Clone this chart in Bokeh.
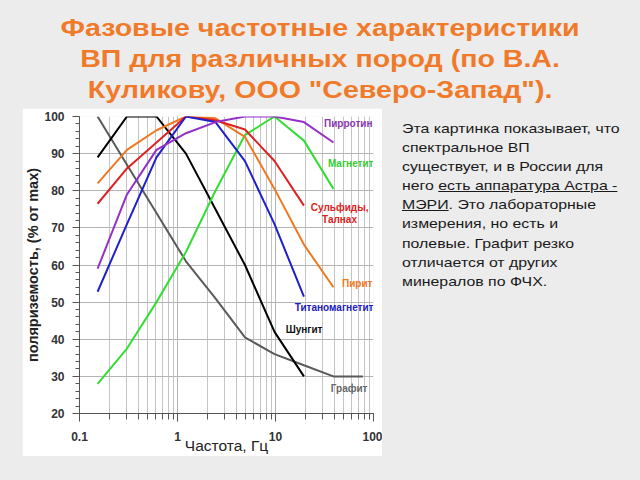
from bokeh.plotting import figure
from bokeh.models import Range1d, Label, FixedTicker, Div, Spacer
from bokeh.layouts import column, row
from bokeh.embed import file_html
from bokeh.resources import INLINE

# ---- data (frequency in Hz, polarizability in % of max) ----
freqs = [0.153, 0.305, 0.61, 1.22, 2.44, 4.88, 9.77, 19.5, 39.0, 78.0]
shungit = [89, 100, 100, 90, 75, 60, 42, 30]
grafit = [100, 87, 74, 61, 51, 40.5, 36, 33, 30, 30]
pirit = [82, 91, 96.3, 100, 99.5, 94.5, 80.5, 65.5, 54]
sulfidy = [76.5, 86, 93, 100, 99, 96.5, 88, 76]
pirrotin = [59, 79, 91, 95.5, 98.5, 100, 100, 98.5, 93]
titanomagnetit = [52.8, 71, 89, 100, 98.5, 88, 71, 51.5]
magnetit = [28, 37.5, 50, 63.5, 80, 95, 100, 93.5, 80.5]

y_ticks = [20, 30, 40, 50, 60, 70, 80, 90, 100]

title_lines = ["Фазовые частотные характеристики",
               "ВП для различных пород (по В.А.",
               "Куликову, ООО &quot;Северо-Запад&quot;)."]
note_lines = ["Эта картинка показывает, что",
              "спектральное ВП",
              "существует, и в России для",
              "него <u>есть аппаратура Астра -</u>",
              "<u>МЭРИ</u>. Это лабораторные",
              "измерения, но есть и",
              "полевые. Графит резко",
              "отличается от других",
              "минералов по ФЧХ."]

BG = "#ececec"
FONT = "Liberation Sans"

# frame: canvas x 76..373, y 116..413 ; figure occupies x 22..382, y 108..456
p = figure(width=360, height=348, x_axis_type="log",
           x_range=Range1d(0.1, 100), y_range=Range1d(20, 100),
           output_backend="svg", toolbar_location=None,
           min_border_left=54, min_border_right=9,
           min_border_top=8, min_border_bottom=43)
p.border_fill_color = "white"
p.background_fill_color = "white"
p.outline_line_color = None

# grids
p.xgrid.grid_line_color = "#b4b4b4"
p.xgrid.minor_grid_line_color = "#c4c4c4"
p.ygrid.grid_line_color = "#b4b4b4"

# axes
for ax in (p.xaxis[0], p.yaxis[0]):
    ax.axis_line_color = "#555555"
    ax.major_tick_line_color = "#555555"
    ax.minor_tick_line_color = "#555555"
    ax.major_label_text_font = FONT
    ax.major_label_text_font_style = "bold"
    ax.major_label_text_font_size = "12px"
    ax.major_label_text_color = "#333333"
    ax.major_tick_in = 0
    ax.minor_tick_in = 0

p.yaxis.ticker = FixedTicker(ticks=y_ticks,
                             minor_ticks=[v for v in range(20, 101, 2)])
p.yaxis.major_tick_out = 7
p.yaxis.minor_tick_out = 4
p.yaxis.major_label_standoff = 8
p.yaxis.axis_label = "поляриземость, (% от max)"
p.yaxis.axis_label_text_font = FONT
p.yaxis.axis_label_text_font_style = "bold"
p.yaxis.axis_label_text_font_size = "14.5px"
p.yaxis.axis_label_text_color = "#222222"
p.yaxis.axis_label_standoff = 0

p.xaxis.major_tick_out = 8
p.xaxis.minor_tick_out = 6
p.xaxis.major_label_standoff = 10
p.xaxis.major_label_overrides = {0.1: "0.1", 1: "1", 10: "10", 100: "100"}
p.xaxis.axis_label = "Частота, Гц"
p.xaxis.axis_label_text_font = FONT
p.xaxis.axis_label_text_font_style = "normal"
p.xaxis.axis_label_text_font_size = "15.5px"
p.xaxis.axis_label_text_color = "#222222"
p.xaxis.axis_label_standoff = -7

# series
series = [
    (grafit, "#5a5a5a"),
    (shungit, "#000000"),
    (magnetit, "#33dd33"),
    (pirit, "#f07820"),
    (sulfidy, "#dd2222"),
    (titanomagnetit, "#1f1fcc"),
    (pirrotin, "#9430c8"),
]
for vals, col in series:
    p.line(freqs[:len(vals)], vals, line_color=col, line_width=2)

# series labels (positions relative to the plot frame: x from left, y from bottom)
FL, FB = 76, 413
labels = [
    ("Пирротин", 369, 123, "right", "#8a35b0"),
    ("Магнетит", 370, 163, "right", "#33cc33"),
    ("Сульфиды,", 365, 207, "right", "#dd2222"),
    ("Талнах", 336, 219, "center", "#dd2222"),
    ("Пирит", 369, 283, "right", "#f07820"),
    ("Титаномагнетит", 370, 307, "right", "#2020c0"),
    ("Шунгит", 319, 329, "right", "#111111"),
    ("Графит", 364, 388, "right", "#666666"),
]
for t, sx, sy, al, col in labels:
    p.add_layout(Label(x=sx - FL, y=FB - sy, x_units="screen", y_units="screen",
                       text=t, text_align=al, text_baseline="middle",
                       text_font=FONT, text_font_style="bold",
                       text_font_size="10px", text_color=col))

title_html = "".join(
    '<div style="height:31px;line-height:31px;white-space:nowrap;'
    f'transform:scaleX(1.19);transform-origin:50% 50%;">{t}</div>'
    for t in title_lines)
title_div = Div(text=title_html, width=640, height=108, margin=0,
                styles={"font-family": FONT, "font-weight": "bold",
                        "font-size": "24px", "color": "#f07a2a",
                        "text-align": "center", "width": "640px",
                        "padding-top": "12px", "box-sizing": "border-box"})

note_html = "".join(
    '<div style="height:19.1px;line-height:19.1px;white-space:nowrap;'
    f'transform:scaleX(1.22);transform-origin:0 50%;">{t}</div>'
    for t in note_lines)
note_div = Div(text=note_html, width=258, height=348, margin=0,
               styles={"font-family": FONT, "font-size": "13px",
                       "color": "#1a1a1a", "padding-left": "20px",
                       "padding-top": "11px", "box-sizing": "border-box"})

left_sp = Spacer(width=22, height=348, margin=0)
bottom_sp = Spacer(width=640, height=24, margin=0)

layout = column(title_div, row(left_sp, p, note_div, spacing=0), bottom_sp,
                spacing=0, styles={"background-color": BG})

open("out.html", "w").write(file_html(layout, INLINE))
